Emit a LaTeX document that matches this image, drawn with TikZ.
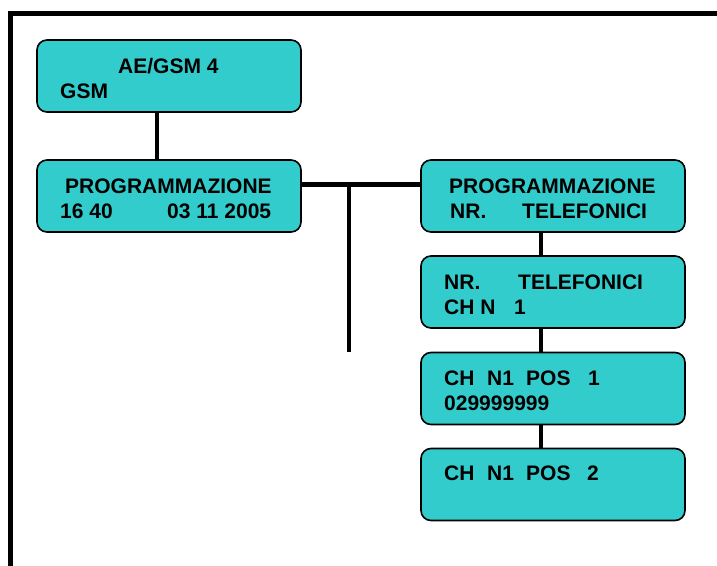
\documentclass[tikz,border=0pt]{standalone}
\usepackage{fontspec}
\setmainfont{Liberation Sans}
\definecolor{boxfill}{RGB}{51,204,204}
\tikzset{
  menubox/.style={draw=black, line width=1.6pt, fill=boxfill, rounded corners=10pt},
  lbl/.style={inner sep=0pt, anchor=base west, font=\fontsize{21}{25}\selectfont\bfseries},
  link/.style={line width=4.5pt, black},
  frame/.style={line width=5pt, black}
}
\begin{document}
\begin{tikzpicture}[x=1pt, y=-1pt]
\useasboundingbox (0,0) rectangle (717,565);
\clip (0,0) rectangle (717,565);
% frame
\coordinate (ftr) at (730,13.5);
\coordinate (ftl) at (10.5,13.5);
\coordinate (fbl) at (10.5,580);
\draw[frame] (ftr) -- (ftl) -- (fbl);
% boxes
\node[menubox, minimum width=264pt, minimum height=72pt, inner sep=0pt] (b1) at (169,76) {};
\node[menubox, minimum width=264pt, minimum height=72pt, inner sep=0pt] (b2) at (169,196) {};
\node[menubox, minimum width=264pt, minimum height=72pt, inner sep=0pt] (b3) at (553,196) {};
\node[menubox, minimum width=264pt, minimum height=72pt, inner sep=0pt] (b4) at (553,292) {};
\node[menubox, minimum width=264pt, minimum height=72pt, inner sep=0pt] (b5) at (553,388.5) {};
\node[menubox, minimum width=264pt, minimum height=72pt, inner sep=0pt] (b6) at (553,484.5) {};
% connectors
\draw[link] (157,0 |- b1.south) -- (157,0 |- b2.north);
\coordinate (hj) at (349,184.5);
\coordinate (hjb) at (349,352);
\draw[link] (b2.east |- hj) -- (b3.west |- hj);
\draw[link] (hj) -- (hjb);
\draw[link] (541,0 |- b3.south) -- (541,0 |- b4.north);
\draw[link] (541,0 |- b4.south) -- (541,0 |- b5.north);
\draw[link] (541,0 |- b5.south) -- (541,0 |- b6.north);
% texts
\node[lbl] (t1a) at (118,73) {AE/GSM 4};
\node[lbl] (t1b) at (60,98) {GSM};
\node[lbl] (t2a) at (65,193) {PROGRAMMAZIONE};
\node[lbl] (t2b) at (60,218) {16 40};
\node[lbl] (t2c) at (167,218) {03 11 2005};
\node[lbl] (t3a) at (449,193) {PROGRAMMAZIONE};
\node[lbl] (t3b) at (450,218) {NR.};
\node[lbl] (t3c) at (522,218) {TELEFONICI};
\node[lbl] (t4a) at (444,289) {NR.};
\node[lbl] (t4b) at (518,289) {TELEFONICI};
\node[lbl] (t4c) at (444,314) {CH N};
\node[lbl] (t4d) at (514,314) {1};
\node[lbl] (t5a) at (444,385) {CH};
\node[lbl] (t5b) at (487,385) {N1};
\node[lbl] (t5c) at (526,385) {POS};
\node[lbl] (t5d) at (588,385) {1};
\node[lbl] (t5e) at (444,410) {029999999};
\node[lbl] (t6a) at (444,480) {CH};
\node[lbl] (t6b) at (487,480) {N1};
\node[lbl] (t6c) at (526,480) {POS};
\node[lbl] (t6d) at (587,480) {2};
\end{tikzpicture}
\end{document}
